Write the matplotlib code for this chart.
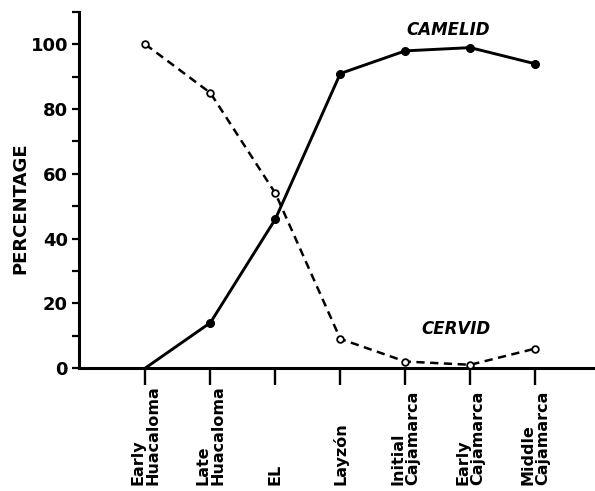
import numpy as np
import matplotlib.pyplot as plt
from matplotlib.ticker import MultipleLocator

# -----------------------------
# DATA
# -----------------------------
periods = ["Early\nHuacaloma", "Late\nHuacaloma", "EL", "Layzón",
           "Initial\nCajamarca", "Early\nCajamarca", "Middle\nCajamarca"]
camelid = [0, 14, 46, 91, 98, 99, 94]
cervid = [100, 85, 54, 9, 2, 1, 6]

x = np.arange(len(periods))

# -----------------------------
# PLOT
# -----------------------------
plt.rcParams['font.family'] = ['DejaVu Sans']
fig = plt.figure(figsize=(5.95, 4.91), dpi=100)
ax = fig.add_axes([0.133, 0.2505, 0.867, 0.725])

# camelid: no dot drawn on the zero point
ax.plot(x, camelid, color="black", lw=2.1, marker="o", ms=5.5, mfc="black",
        mec="black", markevery=list(range(1, len(x))), zorder=3)
ax.plot(x, cervid, color="black", lw=1.8, ls=(0, (3.3, 2.2)), marker="o",
        ms=4.8, mfc="white", mec="black", mew=1.3, zorder=3)

ax.text(4.66, 104.6, "CAMELID", fontsize=12, fontweight="bold",
        fontstyle="italic", ha="center", va="center")
ax.text(4.78, 12, "CERVID", fontsize=12, fontweight="bold",
        fontstyle="italic", ha="center", va="center")

ax.set_xlim(-1.02, 6.92)
ax.set_ylim(0, 110)

for s in ["top", "right"]:
    ax.spines[s].set_visible(False)
for s in ["left", "bottom"]:
    ax.spines[s].set_linewidth(2.2)

ax.set_yticks([0, 20, 40, 60, 80, 100])
ax.yaxis.set_minor_locator(MultipleLocator(10))
ax.tick_params(axis="y", which="both", direction="out", length=5, width=1.6,
               labelsize=13, pad=3)
for lab in ax.get_yticklabels():
    lab.set_fontweight("bold")

ax.set_xticks(x)
ax.set_xticklabels([])
ax.tick_params(axis="x", direction="out", length=12, width=1.7)

for xi, name in zip(x, periods):
    ax.text(xi, -0.329, name, transform=ax.get_xaxis_transform(),
            rotation=90, ha="center", va="bottom", multialignment="left",
            fontsize=11.5, fontweight="bold", linespacing=0.95)

fig.text(0.034, 0.575, "PERCENTAGE", rotation=90, ha="center", va="center",
         fontsize=13, fontweight="bold")

plt.savefig("out.png", dpi=100)
